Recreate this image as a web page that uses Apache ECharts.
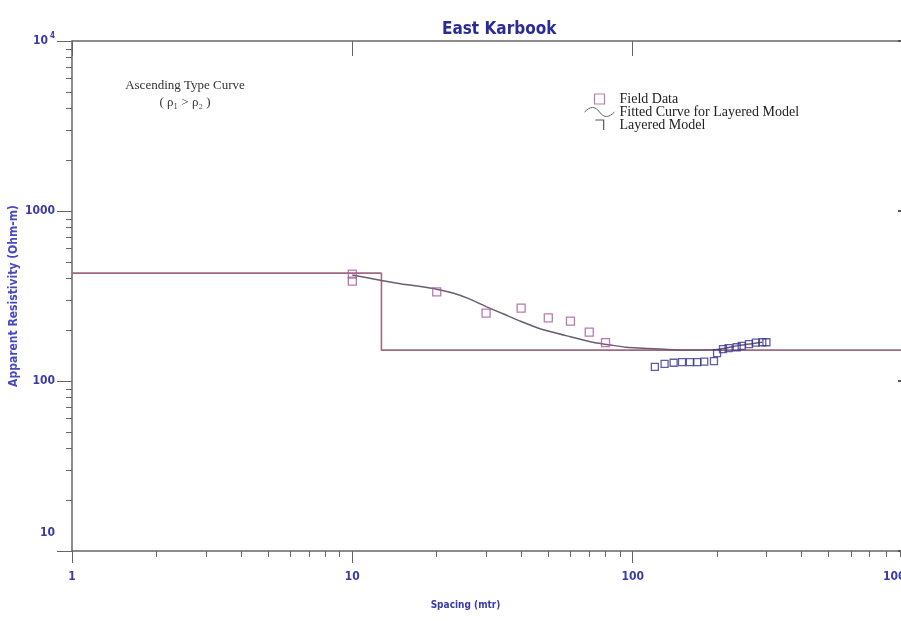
<!DOCTYPE html>
<html>
<head>
<meta charset="utf-8">
<script src="https://cdn.jsdelivr.net/npm/echarts@6/dist/echarts.min.js"></script>
<style>html,body{margin:0;padding:0;background:#fff}#c{width:901px;height:621px}</style>
</head>
<body>
<div id="c"></div>
<script>
// Layered model (step)
const layerSpacing = [1, 12.7, 12.7, 1000];
const layerRho = [431, 431, 152, 152];
// Fitted curve
const fitSpacing = [10, 12.7, 15, 17.5, 20, 23, 26, 30, 35, 40, 48, 60, 72, 85, 95, 125, 150, 173, 204, 241, 290];
const fitRho = [420, 390, 372, 360, 347, 328, 305, 274, 246, 224, 200, 182, 169, 162, 158, 154, 152, 152, 154, 162, 169];
// Field data (pink squares)
const fieldSpacing = [10, 10, 20, 30, 40, 50, 60, 70, 80];
const fieldRho = [425, 387, 334, 251, 268, 235, 225, 194, 168];
// Field data (blue squares)
const blueSpacing = [120, 130, 140, 150, 160, 170, 180, 195, 200, 210, 220, 235, 245, 260, 275, 290, 300];
const blueRho = [121, 126, 128, 129, 129, 129, 130, 131, 146, 154, 156, 158, 161, 165, 168, 169, 169];
// Axis ranges
const xRange = [1, 1000];
const yRange = [10, 10000];

const zip = (a, b) => a.map((v, i) => [v, b[i]]);
const labelFont = '"Liberation Sans Narrow","DejaVu Sans Condensed",sans-serif';
const serif = '"Liberation Serif","DejaVu Serif",serif';
const blue = '#3a3aa8';
const axisCol = '#666';

const chart = echarts.init(document.getElementById('c'), null, {renderer: 'canvas'});
chart.setOption({
  animation: false,
  backgroundColor: '#fff',
  title: {
    text: 'East Karbook', left: 437, top: 16,
    textStyle: {fontFamily: labelFont, fontWeight: 'bold', fontSize: 17, color: '#2b2b96'}
  },
  grid: {left: 72, top: 41, right: -12, bottom: 70, containLabel: false, outerBoundsMode: 'none'},
  legend: {
    orient: 'vertical', left: 579, top: 87, itemWidth: 30, itemHeight: 10, itemGap: -1,
    textStyle: {fontFamily: serif, fontSize: 14, color: '#222'},
    data: [
      {name: 'Field Data', icon: 'path://M0,0 H10 V10 H0 Z',
       itemStyle: {color: 'rgba(0,0,0,0)', borderColor: '#a0609a', borderWidth: 1.2}},
      {name: 'Fitted Curve for Layered Model', icon: 'path://M0,3 C4,-1 7,-1 10,3 C13,7 16,7 20,3',
       itemStyle: {color: 'rgba(0,0,0,0)', borderColor: '#6b5b73', borderWidth: 1}},
      {name: 'Layered Model', icon: 'path://M0,0 L10,0 L10,12',
       itemStyle: {color: 'rgba(0,0,0,0)', borderColor: '#555', borderWidth: 1.2}}
    ]
  },
  graphic: [
    {type: 'text', x: 185, y: 77, style: {text: 'Ascending Type Curve\n( ρ\u2081 > ρ\u2082 )', align: 'center',
      lineHeight: 17, font: '13px "Liberation Serif",serif', fill: '#333'}}
  ],
  xAxis: [{
    type: 'log', logBase: 10, min: xRange[0], max: xRange[1], position: 'bottom',
    name: 'Spacing (mtr)', nameLocation: 'middle', nameGap: 49, nameMoveOverlap: false,
    nameTextStyle: {fontFamily: labelFont, fontWeight: 'bold', fontSize: 10, color: blue, padding: [0, 54, 0, 0]},
    axisLine: {lineStyle: {color: axisCol, width: 1.5}},
    axisTick: {show: true, inside: false, length: 12, lineStyle: {color: axisCol}},
    minorTick: {show: true, splitNumber: 9, length: 6, lineStyle: {color: axisCol}},
    axisLabel: {margin: 20, fontFamily: labelFont, fontWeight: 'bold', fontSize: 12, color: blue,
      alignMaxLabel: 'right',
      formatter: function (v) { return String(Math.round(v)); }},
    splitLine: {show: false}, minorSplitLine: {show: false}
  }, {
    type: 'log', logBase: 10, min: xRange[0], max: xRange[1], position: 'top',
    axisLine: {lineStyle: {color: axisCol, width: 1.5}},
    axisTick: {show: true, inside: true, length: 15, lineStyle: {color: axisCol}},
    axisLabel: {show: false}, splitLine: {show: false}
  }],
  yAxis: [{
    type: 'log', logBase: 10, min: yRange[0], max: yRange[1], position: 'left',
    name: 'Apparent Resistivity (Ohm-m)', nameLocation: 'middle', nameGap: 52, nameRotate: 90,
    nameMoveOverlap: false,
    nameTextStyle: {fontFamily: labelFont, fontWeight: 'bold', fontSize: 12, color: '#4848c0'},
    axisLine: {lineStyle: {color: axisCol, width: 1.5}},
    axisTick: {show: true, inside: false, length: 15, lineStyle: {color: axisCol}},
    minorTick: {show: true, splitNumber: 9, length: 6, lineStyle: {color: axisCol}},
    axisLabel: {
      margin: 17, fontFamily: labelFont, fontWeight: 'bold', fontSize: 12, color: blue,
      formatter: function (v) {
        if (v >= 10000) return '{b|10}{sup|4}';
        if (v <= 10) return '{low|10}';
        return '{b|' + Math.round(v) + '}';
      },
      rich: {
        b: {fontFamily: labelFont, fontWeight: 'bold', fontSize: 12, color: blue},
        sup: {fontFamily: labelFont, fontWeight: 'bold', fontSize: 8, color: blue, padding: [0, 0, 10, 2]},
        low: {fontFamily: labelFont, fontWeight: 'bold', fontSize: 12, color: blue, padding: [0, 0, 36, 0]}
      }
    },
    splitLine: {show: false}, minorSplitLine: {show: false}
  }, {
    type: 'log', logBase: 10, min: yRange[0], max: yRange[1], position: 'right',
    axisLine: {show: false},
    axisTick: {show: true, inside: true, length: 15, lineStyle: {color: '#555', width: 2}},
    axisLabel: {show: false}, splitLine: {show: false}
  }],
  series: [
    {
      name: 'Layered Model', type: 'line', xAxisIndex: 0, yAxisIndex: 0,
      data: zip(layerSpacing, layerRho), showSymbol: false, symbol: 'none',
      lineStyle: {color: '#a06a80', width: 1.6}, itemStyle: {color: '#a06a80'}, z: 2
    },
    {
      name: 'Fitted Curve for Layered Model', type: 'line', xAxisIndex: 0, yAxisIndex: 0,
      data: zip(fitSpacing, fitRho), smooth: 0.15, showSymbol: false, symbol: 'none',
      lineStyle: {color: '#6b5b73', width: 1.5}, itemStyle: {color: '#6b5b73'}, z: 3
    },
    {
      name: 'Field Data', type: 'scatter', xAxisIndex: 0, yAxisIndex: 0,
      data: zip(fieldSpacing, fieldRho), symbol: 'rect', symbolSize: 8,
      itemStyle: {color: 'rgba(0,0,0,0)', borderColor: '#a8589e', borderWidth: 1.3}, z: 4
    },
    {
      name: 'Field Data (blue)', type: 'scatter', xAxisIndex: 0, yAxisIndex: 0,
      data: zip(blueSpacing, blueRho), symbol: 'rect', symbolSize: 7,
      itemStyle: {color: 'rgba(0,0,0,0)', borderColor: '#363690', borderWidth: 1.3}, z: 5
    }
  ]
});
</script>
</body>
</html>
